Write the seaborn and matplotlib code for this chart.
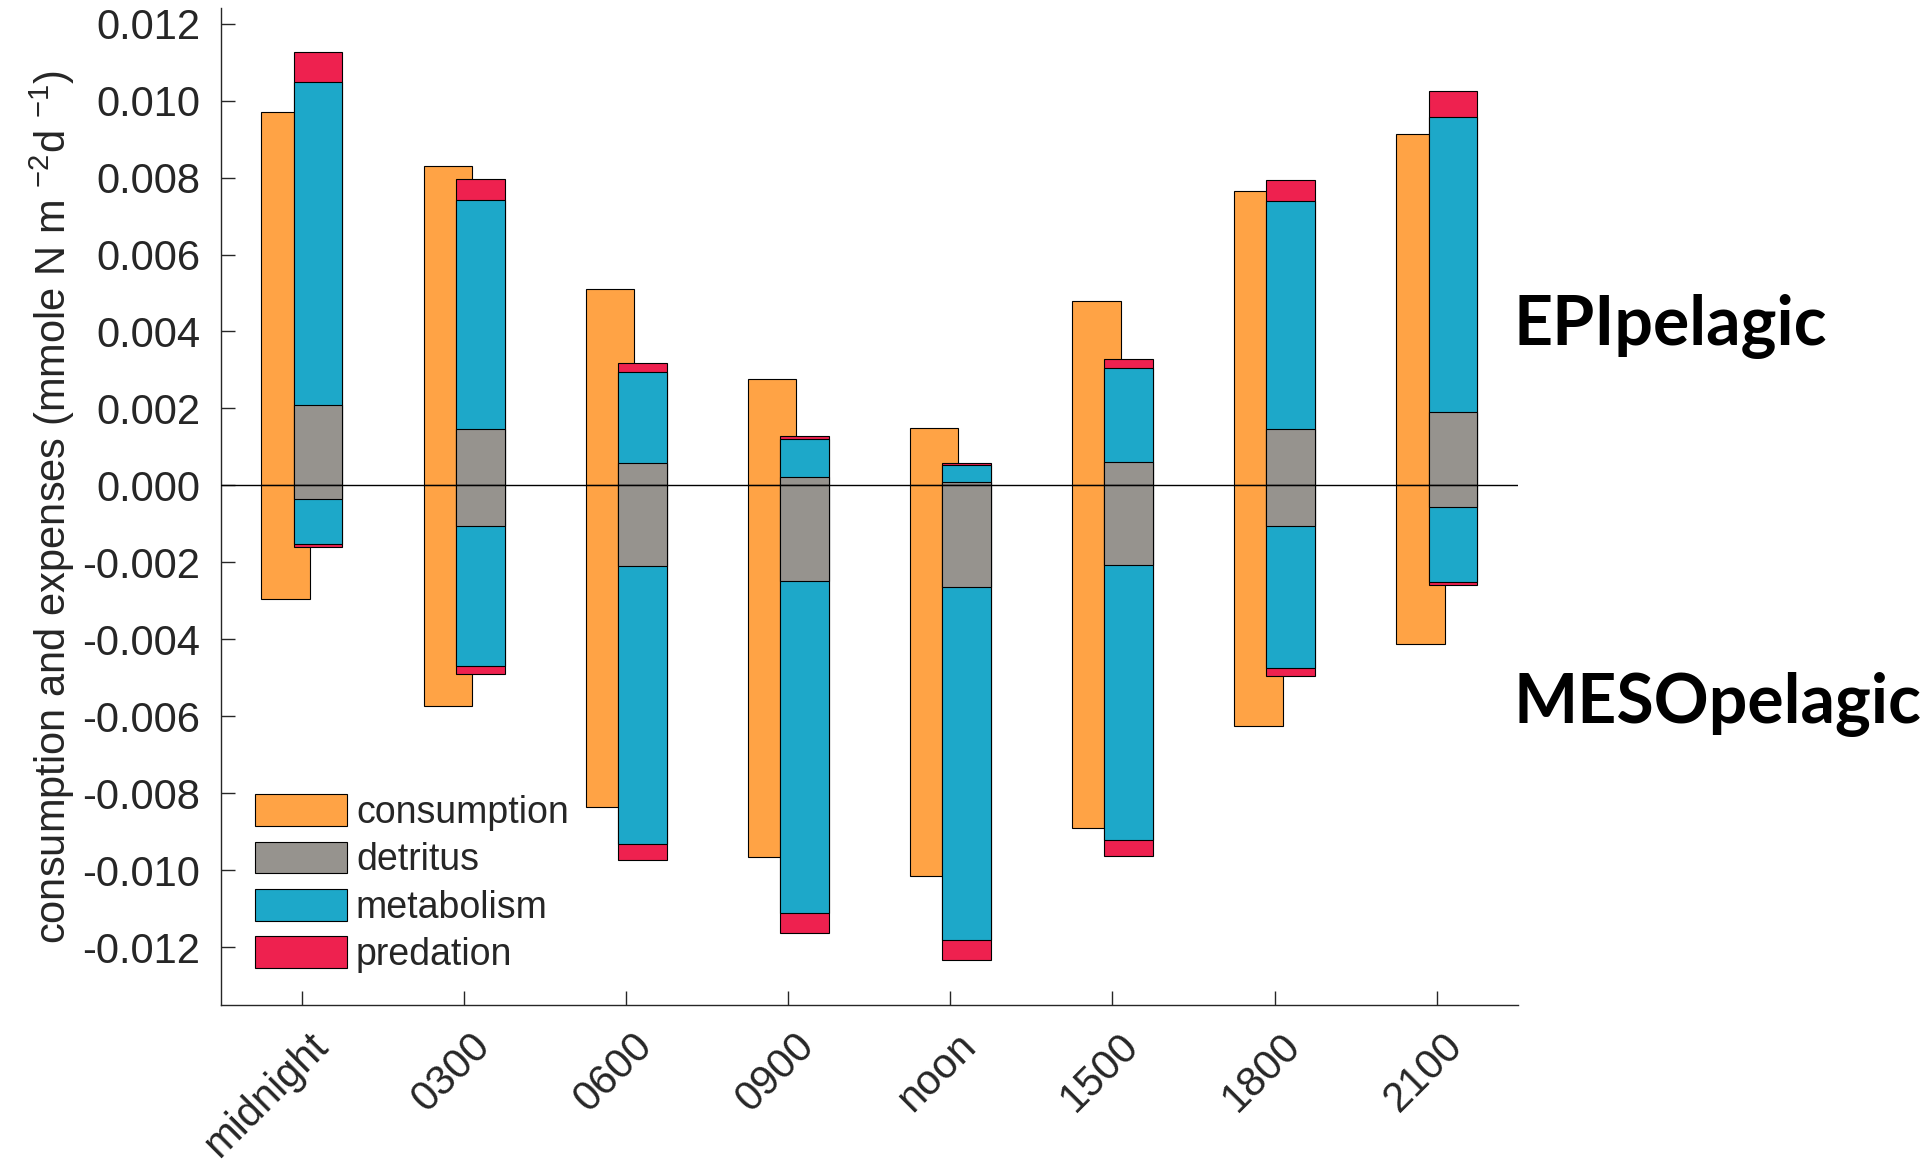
import numpy as np
import matplotlib
matplotlib.use("Agg")
import matplotlib.pyplot as plt
import matplotlib.transforms as mtransforms
from matplotlib.patches import Patch
import seaborn as sns

# --- data (mmole N m^-2 d^-1) -------------------------------------------
times = ["midnight", "0300", "0600", "0900", "noon", "1500", "1800", "2100"]

consumption_epi = [0.00971, 0.00830, 0.00511, 0.00277, 0.00149, 0.00478, 0.00765, 0.00912]
consumption_meso = [-0.00295, -0.00573, -0.00835, -0.00966, -0.01014, -0.00891, -0.00625, -0.00413]

detritus_epi = [0.00208, 0.00146, 0.00059, 0.00023, 0.00010, 0.00061, 0.00146, 0.00190]
metabolism_epi = [0.00840, 0.00595, 0.00235, 0.00098, 0.00044, 0.00245, 0.00592, 0.00767]
predation_epi = [0.00079, 0.00055, 0.00023, 0.00008, 0.00005, 0.00022, 0.00055, 0.00069]

detritus_meso = [-0.00035, -0.00106, -0.00210, -0.00249, -0.00265, -0.00207, -0.00105, -0.00056]
metabolism_meso = [-0.00118, -0.00363, -0.00722, -0.00863, -0.00916, -0.00713, -0.00369, -0.00194]
predation_meso = [-0.00007, -0.00021, -0.00041, -0.00051, -0.00053, -0.00042, -0.00021, -0.00009]

series_names = ["consumption", "detritus", "metabolism", "predation"]
colors = {
    "consumption": "#FFA345",
    "detritus": "#96938E",
    "metabolism": "#1DA8C9",
    "predation": "#EE214F",
}

# --- style ----------------------------------------------------------------
sns.set_theme(style="ticks")
plt.rcParams["font.family"] = ["Liberation Sans", "DejaVu Sans"]
plt.rcParams["mathtext.default"] = "regular"
ink = "#262626"

fig = plt.figure(figsize=(19.26, 11.66), dpi=100)
ax = fig.add_axes([0.1147, 0.138, 0.6733, 0.855])

pos = np.arange(1, len(times) + 1)
bar_w = 0.3
shift = 0.1
edge_kw = dict(edgecolor="black", linewidth=0.8, saturation=1, errorbar=None,
               native_scale=True, width=bar_w, ax=ax)

# consumption bars, left of each time slot
for vals in (consumption_epi, consumption_meso):
    sns.barplot(x=pos - shift, y=vals, color=colors["consumption"], **edge_kw)

# expense stacks, right of each time slot: draw cumulative totals back to front
for det, met, pred in ((detritus_epi, metabolism_epi, predation_epi),
                       (detritus_meso, metabolism_meso, predation_meso)):
    layers = np.cumsum(np.vstack([det, met, pred]), axis=0)
    for name, level in zip(["predation", "metabolism", "detritus"], layers[::-1]):
        sns.barplot(x=pos + shift, y=level, color=colors[name], **edge_kw)

ax.axhline(0, color="black", linewidth=1.0, zorder=5)

# --- axes -----------------------------------------------------------------
ax.set_xlim(0.5, 8.5)
ax.set_ylim(-0.0135, 0.0124)
yt = np.arange(-0.012, 0.0121, 0.002)
ax.set_yticks(yt)
ax.set_yticklabels([f"{v:.3f}".replace("-0.000", "0.000") for v in yt])

# time labels, slanted and hung just below each tick
ax.set_xticks(pos)
ax.set_xticklabels([])
label_tf = ax.get_xaxis_transform() + mtransforms.ScaledTranslation(
    0.20, -0.35, fig.dpi_scale_trans)
for p, name in zip(pos, times):
    ax.text(p, 0, name, transform=label_tf, rotation=45, ha="right",
            va="center", rotation_mode="anchor", fontsize=30, color=ink,
            clip_on=False)

ax.tick_params(axis="both", direction="in", length=10, width=1.0,
               color=ink, labelcolor=ink, labelsize=30, pad=15)
for side in ("top", "right"):
    ax.spines[side].set_visible(False)
for side in ("left", "bottom"):
    ax.spines[side].set_color(ink)
    ax.spines[side].set_linewidth(1.0)

ax.set_xlabel("")
ax.set_ylabel(r"consumption and expenses (mmole N m $^{-2}$d $^{-1}$)",
              fontsize=30, color=ink, va="center")
ax.yaxis.set_label_coords(-0.130, 0.5)

handles = [Patch(facecolor=colors[n], edgecolor="black", linewidth=0.8) for n in series_names]
ax.legend(handles, series_names, loc="lower left", bbox_to_anchor=(0.026, 0.032),
          frameon=False, fontsize=27, handlelength=2.45, handleheight=0.92,
          handletextpad=0.25, labelspacing=0.285, borderpad=0, borderaxespad=0)

fig.text(0.7856, 0.7196, "EPIpelagic", fontsize=49, fontweight="bold",
         family=["Lato", "DejaVu Sans"], ha="left", va="center", color="black")
fig.text(0.7856, 0.3954, "MESOpelagic", fontsize=49, fontweight="bold",
         family=["Lato", "DejaVu Sans"], ha="left", va="center", color="black")

fig.savefig("out.png", dpi=100, facecolor="white")
